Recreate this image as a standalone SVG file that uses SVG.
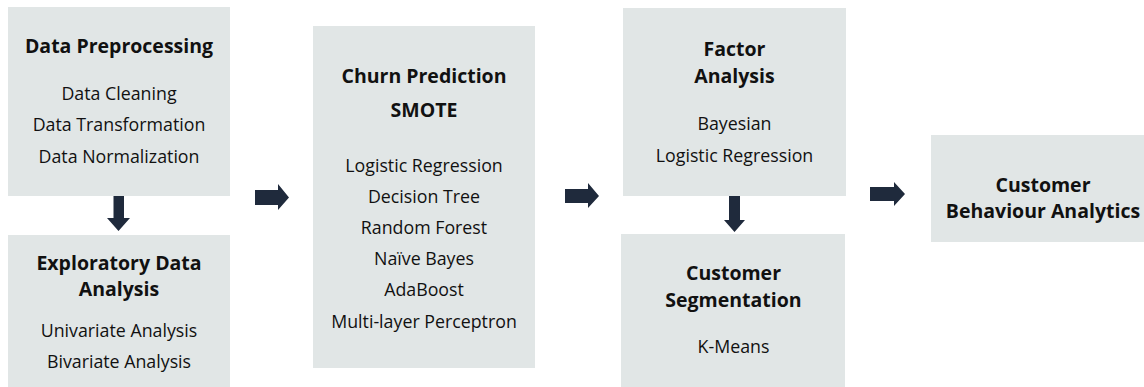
<svg xmlns="http://www.w3.org/2000/svg" width="1144" height="387" viewBox="0 0 1144 387">
  <style>
    .box { fill: #e1e6e6; }
    .title { font-family: "Open Sans", "Noto Sans", sans-serif; font-size: 19.5px; font-weight: 700; fill: #111; text-anchor: middle; }
    .item { font-family: "Open Sans", "Noto Sans", sans-serif; font-size: 17.8px; font-weight: 400; fill: #111; text-anchor: middle; }
    .arrow { fill: #1f2a3c; }
  </style>
  <rect width="1144" height="387" fill="#ffffff"/>

  <!-- connectors: block arrows -->
  <g id="connectors">
    <!-- Data Preprocessing -> Exploratory Data Analysis -->
    <polygon class="arrow" points="113.5,195 124,195 124,218 130,218 118.5,231 107,218 113.5,218"/>
    <!-- left column -> Churn Prediction -->
    <polygon class="arrow" points="255,190 278,190 278,184 289,197.5 278,210 278,205 255,205"/>
    <!-- Churn Prediction -> right column -->
    <polygon class="arrow" points="565,189 588,189 588,183 599,196 588,208 588,203 565,203"/>
    <!-- Factor Analysis -> Customer Segmentation -->
    <polygon class="arrow" points="729,195 740,195 740,220 745,220 734.5,232 724,220 729,220"/>
    <!-- right column -> Customer Behaviour Analytics -->
    <polygon class="arrow" points="870,187 894,187 894,182 905,194 894,206 894,201 870,201"/>
  </g>

  <g id="data-preprocessing">
    <rect class="box" x="8" y="7" width="222" height="189"/>
    <text class="title" x="119" y="53">Data Preprocessing</text>
    <text class="item" x="119" y="100">Data Cleaning</text>
    <text class="item" x="119" y="131">Data Transformation</text>
    <text class="item" x="119" y="163">Data Normalization</text>
  </g>

  <g id="exploratory-data-analysis">
    <rect class="box" x="8" y="235" width="222" height="152"/>
    <text class="title" x="119" y="270">Exploratory Data</text>
    <text class="title" x="119" y="296">Analysis</text>
    <text class="item" x="119" y="337">Univariate Analysis</text>
    <text class="item" x="119" y="368">Bivariate Analysis</text>
  </g>

  <g id="churn-prediction">
    <rect class="box" x="313" y="26" width="222" height="342"/>
    <text class="title" x="424" y="83">Churn Prediction</text>
    <text class="title" x="424" y="117">SMOTE</text>
    <text class="item" x="424" y="172">Logistic Regression</text>
    <text class="item" x="424" y="203">Decision Tree</text>
    <text class="item" x="424" y="234">Random Forest</text>
    <text class="item" x="424" y="265">Naïve Bayes</text>
    <text class="item" x="424" y="296">AdaBoost</text>
    <text class="item" x="424" y="328">Multi-layer Perceptron</text>
  </g>

  <g id="factor-analysis">
    <rect class="box" x="623" y="8" width="223" height="188"/>
    <text class="title" x="734.5" y="56">Factor</text>
    <text class="title" x="734.5" y="83">Analysis</text>
    <text class="item" x="734.5" y="130">Bayesian</text>
    <text class="item" x="734.5" y="162">Logistic Regression</text>
  </g>

  <g id="customer-segmentation">
    <rect class="box" x="621" y="234" width="224" height="153"/>
    <text class="title" x="733.5" y="280">Customer</text>
    <text class="title" x="733.5" y="307">Segmentation</text>
    <text class="item" x="733.5" y="353">K-Means</text>
  </g>

  <g id="customer-behaviour-analytics">
    <rect class="box" x="931" y="135" width="213" height="107"/>
    <text class="title" x="1043" y="192">Customer</text>
    <text class="title" x="1043" y="218">Behaviour Analytics</text>
  </g>
</svg>
